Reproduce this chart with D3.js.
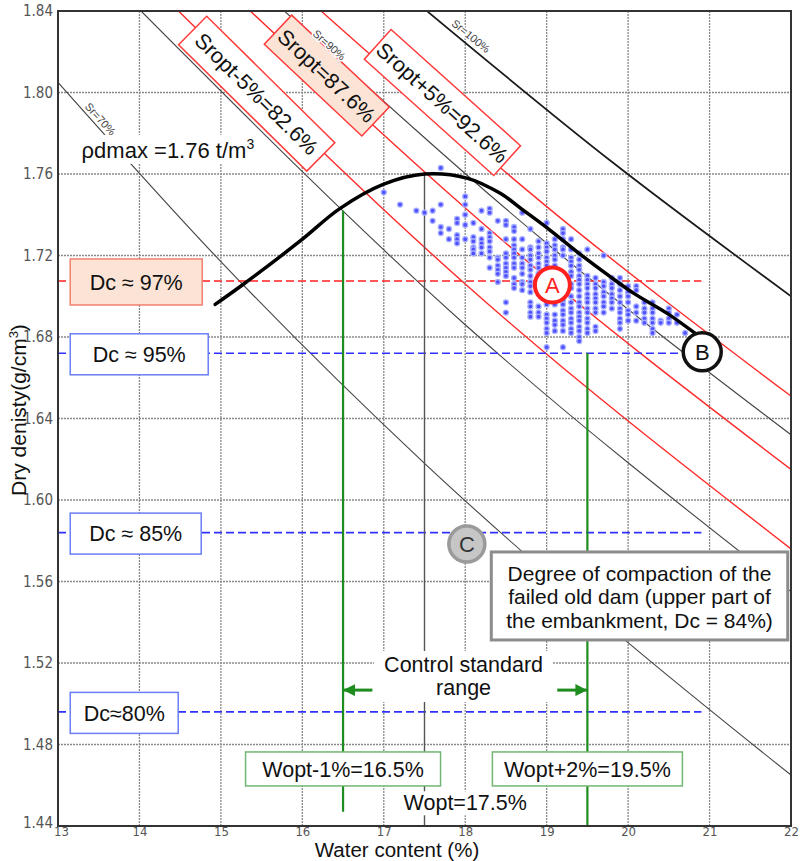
<!DOCTYPE html>
<html>
<head>
<meta charset="utf-8">
<script src="https://cdn.jsdelivr.net/npm/d3@7"></script>
<style>
body { margin: 0; background: #fff; }
svg text { font-family: "Liberation Sans", Arial, sans-serif; fill: #111; }
.tick text { font-family: "Liberation Sans Narrow", "DejaVu Sans Condensed", "Liberation Sans", sans-serif; font-size: 15px; fill: #555; }
</style>
</head>
<body>
<svg id="chart" width="800" height="861"></svg>
<script>
/* Data section */
// axis ticks
var waterTicks = [13, 14, 15, 16, 17, 18, 19, 20, 21, 22];
var densityTicks = [1.44, 1.48, 1.52, 1.56, 1.60, 1.64, 1.68, 1.72, 1.76, 1.80, 1.84];

// saturation lines, [water content %, dry density]
var sr100 = [[17.53, 1.840], [19.8, 1.766], [22, 1.700]];
var sr926 = [[16.23, 1.840], [19.0, 1.744], [22, 1.651]];
var sr90 = [[15.78, 1.840], [19.0, 1.726], [22, 1.632]];
var sr876 = [[15.36, 1.840], [18.5, 1.726], [22, 1.615]];
var sr826 = [[14.48, 1.840], [18.0, 1.706], [22, 1.576]];
var sr80 = [[14.02, 1.840], [18.0, 1.686], [22, 1.555]];
var sr70 = [[13.0, 1.805], [15.0, 1.717], [17.5, 1.618], [20.0, 1.530], [22, 1.465]];

// compaction curve
var compactionCurve = [[14.93, 1.696], [15.28, 1.706], [15.97, 1.727], [16.46, 1.743], [17.0, 1.755],
    [17.5, 1.760], [18.02, 1.758], [18.43, 1.7505], [18.72, 1.742], [19.04, 1.7325], [19.45, 1.7194],
    [19.78, 1.7096], [20.07, 1.7014], [20.48, 1.6916], [20.85, 1.681]];

// degree of compaction levels
var dcLabels = ["Dc \u2248 97%", "Dc \u2248 95%", "Dc \u2248 85%", "Dc\u224880%"];
var dcDensity = [1.7075, 1.672, 1.584, 1.496];
var dcColors = ["red", "blue", "blue", "blue"];

// water content limits
var woptLow = 16.5, woptHigh = 19.5, wopt = 17.5, rhoMax = 1.76;

// field test samples, one column of densities for each water content
var sampleW = [17.0, 17.2, 17.4, 17.5, 17.6, 17.7, 17.8, 17.9, 18.0, 18.1, 18.2, 18.3, 18.4, 18.5, 18.6,
    18.7, 18.8, 18.9, 19.0, 19.1, 19.2, 19.3, 19.4, 19.5, 19.6, 19.7, 19.8, 19.9, 20.0, 20.1, 20.2, 20.3,
    20.4, 20.5, 20.6, 20.7];
var sampleRho = [
    [1.751], [1.745], [1.742], [1.741], [1.742, 1.737],
    [1.763, 1.745, 1.734, 1.731],
    [1.733, 1.728],
    [1.738, 1.736, 1.730, 1.728, 1.726],
    [1.749, 1.745, 1.740, 1.735, 1.728],
    [1.736, 1.729, 1.727, 1.724, 1.723, 1.721],
    [1.742, 1.733, 1.728, 1.726, 1.724, 1.721],
    [1.743, 1.741, 1.731, 1.729, 1.727, 1.724, 1.722, 1.719, 1.714],
    [1.737, 1.719, 1.718, 1.715, 1.713, 1.711, 1.707],
    [1.737, 1.735, 1.728, 1.721, 1.719, 1.716, 1.714, 1.712, 1.710, 1.697, 1.692],
    [1.734, 1.732, 1.728, 1.725, 1.723, 1.721, 1.719, 1.716, 1.714, 1.709, 1.706, 1.704],
    [1.741, 1.728, 1.723, 1.719, 1.716, 1.714, 1.711, 1.707, 1.706, 1.703],
    [1.733, 1.724, 1.723, 1.720, 1.718, 1.715, 1.713, 1.710, 1.707, 1.705, 1.702, 1.697, 1.695, 1.692, 1.690],
    [1.727, 1.724, 1.721, 1.719, 1.716, 1.714, 1.711, 1.709, 1.706, 1.695, 1.692, 1.690],
    [1.736, 1.726, 1.724, 1.722, 1.719, 1.717, 1.715, 1.696, 1.691, 1.689, 1.687, 1.684, 1.682, 1.675],
    [1.728, 1.725, 1.723, 1.720, 1.718, 1.715, 1.713, 1.696, 1.691, 1.688, 1.686, 1.683],
    [1.733, 1.731, 1.728, 1.724, 1.723, 1.720, 1.698, 1.696, 1.693, 1.691, 1.688, 1.686, 1.683, 1.675],
    [1.728, 1.723, 1.719, 1.717, 1.715, 1.712, 1.710, 1.706, 1.704, 1.700, 1.697, 1.694, 1.692, 1.689, 1.687, 1.684, 1.682],
    [1.721, 1.718, 1.715, 1.713, 1.710, 1.708, 1.706, 1.703, 1.700, 1.697, 1.695, 1.692, 1.690, 1.688, 1.685, 1.683, 1.680, 1.678],
    [1.723, 1.710, 1.708, 1.706, 1.704, 1.701, 1.699, 1.697, 1.694, 1.692, 1.689, 1.687, 1.684, 1.682],
    [1.709, 1.706, 1.704, 1.701, 1.699, 1.697, 1.694, 1.692, 1.685, 1.683],
    [1.720, 1.707, 1.705, 1.702, 1.700, 1.697, 1.695, 1.692],
    [1.709, 1.706, 1.704, 1.701, 1.699, 1.697, 1.694],
    [1.709, 1.706, 1.703, 1.700, 1.697, 1.694, 1.692, 1.689, 1.687, 1.684],
    [1.705, 1.702, 1.700, 1.697, 1.693, 1.691, 1.688],
    [1.705, 1.703, 1.695, 1.692, 1.688],
    [1.697, 1.694, 1.692, 1.689, 1.687],
    [1.697, 1.694, 1.692, 1.689, 1.687, 1.684, 1.682],
    [1.688, 1.687],
    [1.694, 1.692, 1.689, 1.687],
    [1.691, 1.687],
    [1.682]
];

/* Drawing */
var svg = d3.select("#chart");
var x = d3.scaleLinear().domain([13, 22]).range([58, 791]);
var y = d3.scaleLinear().domain([1.44, 1.84]).range([826, 11]);

svg.append("defs").append("clipPath").attr("id", "plotClip")
    .append("rect").attr("x", x(13)).attr("y", y(1.84))
    .attr("width", x(22) - x(13)).attr("height", y(1.44) - y(1.84));

var plot = svg.append("g").attr("clip-path", "url(#plotClip)");

// grid
plot.selectAll(".gx").data(waterTicks).enter().append("line")
    .attr("x1", d => x(d)).attr("x2", d => x(d))
    .attr("y1", y(1.84)).attr("y2", y(1.44))
    .attr("stroke", "#8a8a8a").attr("stroke-width", 1.3).attr("stroke-dasharray", "2,1");
plot.selectAll(".gy").data(densityTicks).enter().append("line")
    .attr("y1", d => y(d)).attr("y2", d => y(d))
    .attr("x1", x(13)).attr("x2", x(22))
    .attr("stroke", "#8a8a8a").attr("stroke-width", 1.3).attr("stroke-dasharray", "2,1");

var line = d3.line().x(d => x(d[0])).y(d => y(d[1])).curve(d3.curveMonotoneX);

// saturation lines
[[sr100, "#1a1a1a", 1.7], [sr90, "#444", 1.1], [sr80, "#444", 1.1], [sr70, "#444", 1.1]].forEach(function (s) {
    plot.append("path").attr("d", line(s[0])).attr("fill", "none")
        .attr("stroke", s[1]).attr("stroke-width", s[2]);
});
[sr926, sr876, sr826].forEach(function (s) {
    plot.append("path").attr("d", line(s)).attr("fill", "none")
        .attr("stroke", "#ff2a2a").attr("stroke-width", 1.4);
});

// Dc dashed levels
plot.selectAll(".dc").data(dcDensity).enter().append("line")
    .attr("x1", x(13)).attr("x2", x(20.9))
    .attr("y1", d => y(d)).attr("y2", d => y(d))
    .attr("stroke", (d, i) => dcColors[i] == "red" ? "#ff2020" : "#3030ff")
    .attr("stroke-width", 1.6).attr("stroke-dasharray", "8,4");

// Wopt line
plot.append("line").attr("x1", x(wopt)).attr("x2", x(wopt))
    .attr("y1", y(rhoMax)).attr("y2", y(1.44)).attr("stroke", "#555").attr("stroke-width", 1.4);

// control standard range lines
plot.append("line").attr("x1", x(woptLow)).attr("x2", x(woptLow))
    .attr("y1", y(1.742)).attr("y2", y(1.447)).attr("stroke", "#1e8c1e").attr("stroke-width", 2.2);
plot.append("line").attr("x1", x(woptHigh)).attr("x2", x(woptHigh))
    .attr("y1", y(1.672)).attr("y2", y(1.44)).attr("stroke", "#1e8c1e").attr("stroke-width", 2.2);

// samples
var samples = [];
sampleW.forEach(function (w, i) { sampleRho[i].forEach(function (r) { samples.push([w, r]); }); });
plot.selectAll(".dot").data(samples).enter().append("circle")
    .attr("cx", d => x(d[0])).attr("cy", d => y(d[1])).attr("r", 2.5)
    .attr("fill", "#5050ff").attr("stroke", "#a8b0ff").attr("stroke-width", 1.3);

// compaction curve
plot.append("path").attr("d", d3.line().x(d => x(d[0])).y(d => y(d[1])).curve(d3.curveCatmullRom)(compactionCurve))
    .attr("fill", "none").attr("stroke", "#000").attr("stroke-width", 3.5).attr("stroke-linecap", "round");

// frame
svg.append("rect").attr("x", x(13)).attr("y", y(1.84))
    .attr("width", x(22) - x(13)).attr("height", y(1.44) - y(1.84))
    .attr("fill", "none").attr("stroke", "#333").attr("stroke-width", 2);

// axes
var yAxis = svg.append("g").attr("transform", "translate(" + x(13) + ",0)")
    .call(d3.axisLeft(y).tickValues(densityTicks).tickFormat(d3.format(".2f")).tickSize(0).tickPadding(5));
yAxis.select(".domain").remove();
yAxis.selectAll("text").filter(d => d == 1.44).attr("dy", "0.1em");
var xAxis = svg.append("g").attr("transform", "translate(0," + y(1.44) + ")")
    .call(d3.axisBottom(x).tickValues(waterTicks).tickFormat(d3.format("d")).tickSize(0).tickPadding(1));
xAxis.select(".domain").remove();
xAxis.selectAll("text").style("font-size", "13px");
xAxis.selectAll("text").filter(d => d == 13).attr("dx", "3");

svg.append("text").attr("x", 397).attr("y", 857).attr("text-anchor", "middle")
    .style("font-size", "20.5px").text("Water content (%)");
var yTitle = svg.append("text").attr("transform", "translate(26,410) rotate(-90)")
    .attr("text-anchor", "middle").style("font-size", "21px");
yTitle.append("tspan").text("Dry denisty(g/cm");
yTitle.append("tspan").attr("dy", -8).style("font-size", "13px").text("3");
yTitle.append("tspan").attr("dy", 8).text(")");

/* Annotations */
var notes = svg.append("g");

// white background behind a text element
function addBg(t, padX, padY) {
    var b = t.node().getBBox();
    notes.insert("rect", () => t.node())
        .attr("x", b.x - padX).attr("y", b.y - padY)
        .attr("width", b.width + 2 * padX).attr("height", b.height + 2 * padY)
        .attr("fill", "#fff");
}

// angle of a line at water content w, in screen space
function angleAt(pts, w) {
    var i = 0;
    while (i < pts.length - 2 && pts[i + 1][0] < w) i++;
    var a = pts[i], b = pts[i + 1];
    return Math.atan2(y(b[1]) - y(a[1]), x(b[0]) - x(a[0])) * 180 / Math.PI;
}

// rotated Sr boxes
var srBoxes = [
    { text: "Sropt-5%=82.6%", pts: sr826, w: 15.44, rho: 1.7994, len: 180, fill: "#fff" },
    { text: "Sropt=87.6%", pts: sr876, w: 16.30, rho: 1.8083, len: 134, fill: "#fbe4d5" },
    { text: "Sropt+5%=92.6%", pts: sr926, w: 17.72, rho: 1.7951, len: 174, fill: "#fff" }
];
srBoxes.forEach(function (b) {
    var g = notes.append("g").attr("transform", "translate(" + x(b.w) + "," + y(b.rho) + ") rotate(" + (angleAt(b.pts, b.w) + 1) + ")");
    g.append("rect").attr("x", -b.len / 2).attr("y", -20).attr("width", b.len).attr("height", 40)
        .attr("fill", b.fill).attr("stroke", "#ff3b3b").attr("stroke-width", 1.5);
    g.append("text").attr("text-anchor", "middle").attr("dy", "0.36em")
        .style("font-size", "21.5px").text(b.text);
});

// Sr labels
var srLabels = [
    { text: "Sr=100%", pts: sr100, w: 18.07, rho: 1.8277 },
    { text: "Sr=90%", pts: sr90, w: 16.33, rho: 1.8233 },
    { text: "Sr=70%", pts: sr70, w: 13.52, rho: 1.787 }
];
srLabels.forEach(function (l) {
    notes.append("text")
        .attr("transform", "translate(" + x(l.w) + "," + y(l.rho) + ") rotate(" + angleAt(l.pts, l.w) + ")")
        .attr("text-anchor", "middle").attr("dy", "0.35em")
        .attr("stroke", "#fff").attr("stroke-width", 3).attr("paint-order", "stroke")
        .style("font-size", "11px").style("fill", "#444").text(l.text);
});

// rho d max label
var rhoText = notes.append("text").attr("x", x(13.29)).attr("y", y(1.7679)).style("font-size", "22px");
rhoText.append("tspan").text("\u03c1dmax =1.76 t/m");
rhoText.append("tspan").attr("dy", -9).style("font-size", "14px").text("3");
addBg(rhoText, 4, 1);

// Dc boxes
var dcBoxW = [132, 138, 131, 108];
var dcBoxH = [46, 41, 41, 41];
dcLabels.forEach(function (lab, i) {
    var red = dcColors[i] == "red";
    notes.append("rect").attr("x", x(13.15)).attr("y", y(dcDensity[i]) - dcBoxH[i] / 2 + 1)
        .attr("width", dcBoxW[i]).attr("height", dcBoxH[i])
        .attr("fill", red ? "#fbe4d5" : "#fff").attr("stroke", red ? "#f2806f" : "#6a7ff5").attr("stroke-width", 1.5);
    notes.append("text").attr("x", x(13.15) + dcBoxW[i] / 2).attr("y", y(dcDensity[i]) + 1)
        .attr("dy", "0.36em").attr("text-anchor", "middle").style("font-size", "21.5px").text(lab);
});

// Wopt boxes
var woptBoxes = [
    { text: "Wopt-1%=16.5%", w: woptLow, len: 195 },
    { text: "Wopt+2%=19.5%", w: woptHigh, len: 190 }
];
woptBoxes.forEach(function (b) {
    notes.append("rect").attr("x", x(b.w) - b.len / 2).attr("y", y(1.468) - 17)
        .attr("width", b.len).attr("height", 34)
        .attr("fill", "#fff").attr("stroke", "#73b673").attr("stroke-width", 1.5);
    notes.append("text").attr("x", x(b.w)).attr("y", y(1.468)).attr("dy", "0.36em")
        .attr("text-anchor", "middle").style("font-size", "21.5px").text(b.text);
});
var woptText = notes.append("text").attr("x", x(18.0)).attr("y", y(1.4477))
    .attr("text-anchor", "middle").style("font-size", "21.5px").text("Wopt=17.5%");
addBg(woptText, 4, 0);

// control standard range
var ctrl = notes.append("text").attr("text-anchor", "middle").style("font-size", "21.5px");
ctrl.append("tspan").attr("x", x(17.98)).attr("y", y(1.5156)).text("Control standard");
ctrl.append("tspan").attr("x", x(17.98)).attr("y", y(1.5043)).text("range");
addBg(ctrl, 10, 2);

var defs = svg.select("defs");
defs.append("marker").attr("id", "arrowG").attr("viewBox", "0 0 10 10")
    .attr("refX", 10).attr("refY", 5).attr("markerWidth", 4).attr("markerHeight", 4)
    .attr("orient", "auto-start-reverse")
    .append("path").attr("d", "M0,0 L10,5 L0,10 z").attr("fill", "#1e8c1e");
[[16.86, woptLow], [19.13, woptHigh]].forEach(function (a) {
    notes.append("line").attr("x1", x(a[0])).attr("x2", x(a[1]))
        .attr("y1", y(1.5067)).attr("y2", y(1.5067))
        .attr("stroke", "#1e8c1e").attr("stroke-width", 3).attr("marker-end", "url(#arrowG)");
});

// failed old dam box
notes.append("rect").attr("x", x(18.32)).attr("y", y(1.5745))
    .attr("width", x(21.96) - x(18.32)).attr("height", y(1.5313) - y(1.5745))
    .attr("fill", "#fff").attr("stroke", "#8c8c8c").attr("stroke-width", 3);
var damText = notes.append("text").attr("text-anchor", "middle").style("font-size", "21px");
["Degree of compaction of the", "failed old dam (upper part of", "the embankment, Dc = 84%)"].forEach(function (s, i) {
    damText.append("tspan").attr("x", (x(18.32) + x(21.96)) / 2).attr("y", y(1.5745) + 29 + i * 23.5).text(s);
});

// marked points A, B, C
var markers = [
    { label: "A", w: 19.07, rho: 1.7055, r: 17.5, fill: "#fff", stroke: "#ff2020", sw: 4, color: "#ff2020" },
    { label: "B", w: 20.91, rho: 1.6727, r: 19, fill: "#fff", stroke: "#111", sw: 3.5, color: "#111" },
    { label: "C", w: 18.02, rho: 1.5784, r: 18, fill: "#c6c6c6", stroke: "#9a9a9a", sw: 3.5, color: "#333" }
];
markers.forEach(function (m) {
    notes.append("circle").attr("cx", x(m.w)).attr("cy", y(m.rho)).attr("r", m.r)
        .attr("fill", m.fill).attr("stroke", m.stroke).attr("stroke-width", m.sw);
    notes.append("text").attr("x", x(m.w)).attr("y", y(m.rho)).attr("dy", "0.36em")
        .attr("text-anchor", "middle").style("font-size", "22px").style("fill", m.color).text(m.label);
});
</script>
</body>
</html>
